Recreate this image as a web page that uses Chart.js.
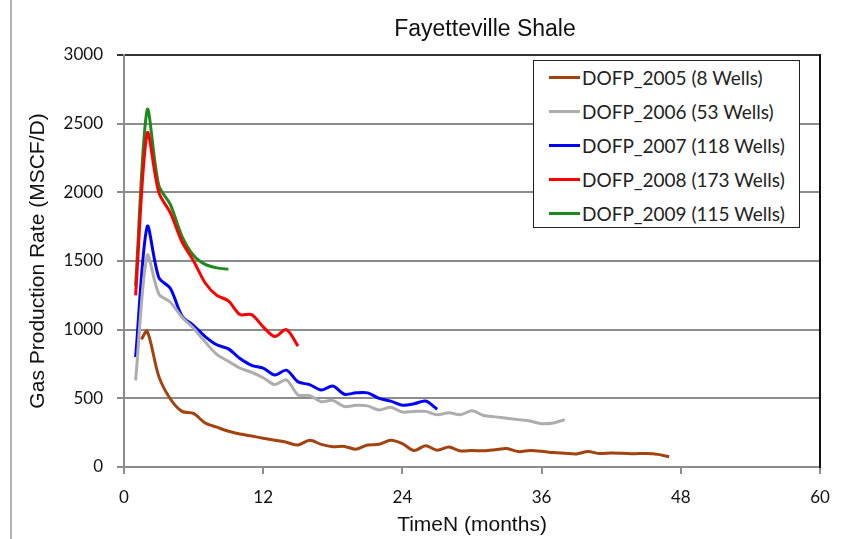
<!DOCTYPE html>
<html>
<head>
<meta charset="utf-8">
<script src="https://cdn.jsdelivr.net/npm/chart.js@4.4.0/dist/chart.umd.min.js"></script>
<style>
  html, body { margin: 0; padding: 0; background: #fff; }
  #wrap { position: relative; width: 851px; height: 539px; overflow: hidden; }
  #wrap .edge { position: absolute; left: 10px; top: 0; bottom: 0; width: 2px; background: #b4b4b4; }
  #legend {
    position: absolute; left: 533px; top: 60px; width: 267px; height: 168px;
    border: 1.5px solid #222; box-sizing: border-box; background: #fff; padding-top: 0;
  }
  .item { display: flex; align-items: center; height: 33.8px; font: 19px Lato, sans-serif; color: #222; }
  .swatch { width: 31px; height: 3px; margin-left: 15px; margin-right: 2px; }
</style>
</head>
<body>
<div id="wrap">
  <div class="edge"></div>
  <canvas id="chart" width="851" height="539"></canvas>
  <div id="legend"></div>
</div>
<script>
// series labels + colours
const seriesNames = ['DOFP_2005 (8 Wells)', 'DOFP_2006 (53 Wells)', 'DOFP_2007 (118 Wells)', 'DOFP_2008 (173 Wells)', 'DOFP_2009 (115 Wells)'];
const seriesColors = ['#A3420F', '#ADADAD', '#0000FF', '#FF0000', '#1E8A1E'];

// production rate (MSCF/D) by normalized month
const months2005 = [1.5, 2, 3, 4, 5, 6, 7, 8, 9, 10, 11, 12, 13, 14, 15, 16, 17, 18, 19, 20, 21, 22, 23, 24, 25, 26, 27, 28, 29, 30, 31, 32, 33, 34, 35, 36, 37, 38, 39, 40, 41, 42, 43, 44, 45, 46, 47];
const rate2005 = [930, 990, 660, 495, 405, 390, 320, 290, 260, 240, 225, 210, 195, 180, 160, 195, 165, 148, 150, 130, 160, 165, 195, 170, 120, 155, 122, 145, 117, 120, 118, 125, 134, 112, 120, 115, 105, 100, 95, 112, 98, 102, 100, 97, 98, 92, 75];

const months2006 = [1, 2, 3, 4, 5, 6, 7, 8, 9, 10, 11, 12, 13, 14, 15, 16, 17, 18, 19, 20, 21, 22, 23, 24, 25, 26, 27, 28, 29, 30, 31, 32, 33, 34, 35, 36, 37, 38];
const rate2006 = [630, 1540, 1260, 1200, 1090, 1010, 910, 820, 770, 720, 690, 650, 600, 635, 525, 520, 475, 485, 440, 450, 445, 415, 435, 400, 405, 405, 380, 395, 380, 410, 375, 365, 355, 345, 335, 315, 320, 345];

const months2007 = [1, 2, 3, 4, 5, 6, 7, 8, 9, 10, 11, 12, 13, 14, 15, 16, 17, 18, 19, 20, 21, 22, 23, 24, 25, 26, 27];
const rate2007 = [800, 1750, 1380, 1300, 1100, 1030, 950, 890, 860, 790, 740, 720, 670, 705, 620, 600, 560, 590, 530, 540, 540, 500, 480, 450, 460, 480, 420];

const months2008 = [1, 2, 3, 4, 5, 6, 7, 8, 9, 10, 11, 12, 13, 14, 15];
const rate2008 = [1250, 2430, 2000, 1850, 1640, 1500, 1340, 1250, 1210, 1110, 1110, 1020, 950, 1000, 880];

const months2009 = [1, 2, 3, 4, 5, 6, 7, 8, 9];
const rate2009 = [1320, 2600, 2050, 1910, 1680, 1540, 1475, 1450, 1440];

const xTicks = [0, 12, 24, 36, 48, 60];
const yTicks = [0, 500, 1000, 1500, 2000, 2500, 3000];

const allMonths = [months2005, months2006, months2007, months2008, months2009];
const allRates = [rate2005, rate2006, rate2007, rate2008, rate2009];

const datasets = seriesNames.map((name, i) => ({
  label: name,
  data: allMonths[i].map((m, j) => ({ x: m, y: allRates[i][j] })),
  borderColor: seriesColors[i],
  backgroundColor: seriesColors[i]
}));

// legend box
const legendEl = document.getElementById('legend');
seriesNames.forEach((name, i) => {
  const row = document.createElement('div');
  row.className = 'item';
  row.innerHTML = `<span class="swatch" style="background:${seriesColors[i]}"></span><span>${name}</span>`;
  legendEl.appendChild(row);
});

const gridGray = '#8c8c8c';
const axisFont = { family: 'Lato, sans-serif', size: 17 };
const titleFont = { family: '"Liberation Sans", Arial, sans-serif', size: 21 };

const titlePlugin = {
  id: 'topTitle',
  afterDraw(chart) {
    const c = chart.ctx;
    c.save();
    c.font = '23px "Liberation Sans", Arial, sans-serif';
    c.fillStyle = '#111';
    c.textAlign = 'center';
    c.textBaseline = 'middle';
    c.fillText('Fayetteville Shale', 485, 30);
    c.restore();
  }
};

new Chart(document.getElementById('chart'), {
  type: 'line',
  data: { datasets },
  options: {
    responsive: false,
    animation: false,
    layout: { padding: { left: 26, top: 55, right: 31, bottom: 0 } },
    plugins: { legend: { display: false }, tooltip: { enabled: false } },
    elements: { point: { radius: 0 }, line: { borderWidth: 3, tension: 0.3 } },
    scales: {
      x: {
        type: 'linear', min: xTicks[0], max: xTicks[xTicks.length - 1],
        afterBuildTicks: s => { s.ticks = xTicks.map(v => ({ value: v })); },
        ticks: { color: '#111', font: axisFont, padding: 13, callback: v => String(v) },
        grid: { drawOnChartArea: false, tickLength: 7, color: gridGray, lineWidth: 2 },
        border: { color: gridGray, width: 2 },
        title: { display: true, text: 'TimeN (months)', color: '#111', font: titleFont, padding: { top: 0, bottom: 1 } },
        afterFit: s => { s.height = 72; }
      },
      y: {
        type: 'linear', min: yTicks[0], max: yTicks[yTicks.length - 1],
        afterBuildTicks: s => { s.ticks = yTicks.map(v => ({ value: v })); },
        ticks: { color: '#111', font: axisFont, padding: 14, callback: v => String(v) },
        grid: { color: c => (c.tick && c.tick.value === 3000 ? '#333' : gridGray), lineWidth: 2, tickLength: 7 },
        border: { color: gridGray, width: 2 },
        title: { display: true, text: 'Gas Production Rate (MSCF/D)', color: '#111', font: titleFont, padding: { top: 0, bottom: 0 } },
        afterFit: s => { s.width = 98; }
      },
      yRight: {
        axis: 'y', position: 'right', min: 0, max: 3000,
        ticks: { display: false },
        grid: { display: false },
        border: { color: '#111', width: 2 },
        afterFit: s => { s.width = 0; }
      }
    }
  },
  plugins: [titlePlugin]
});
</script>
</body>
</html>
